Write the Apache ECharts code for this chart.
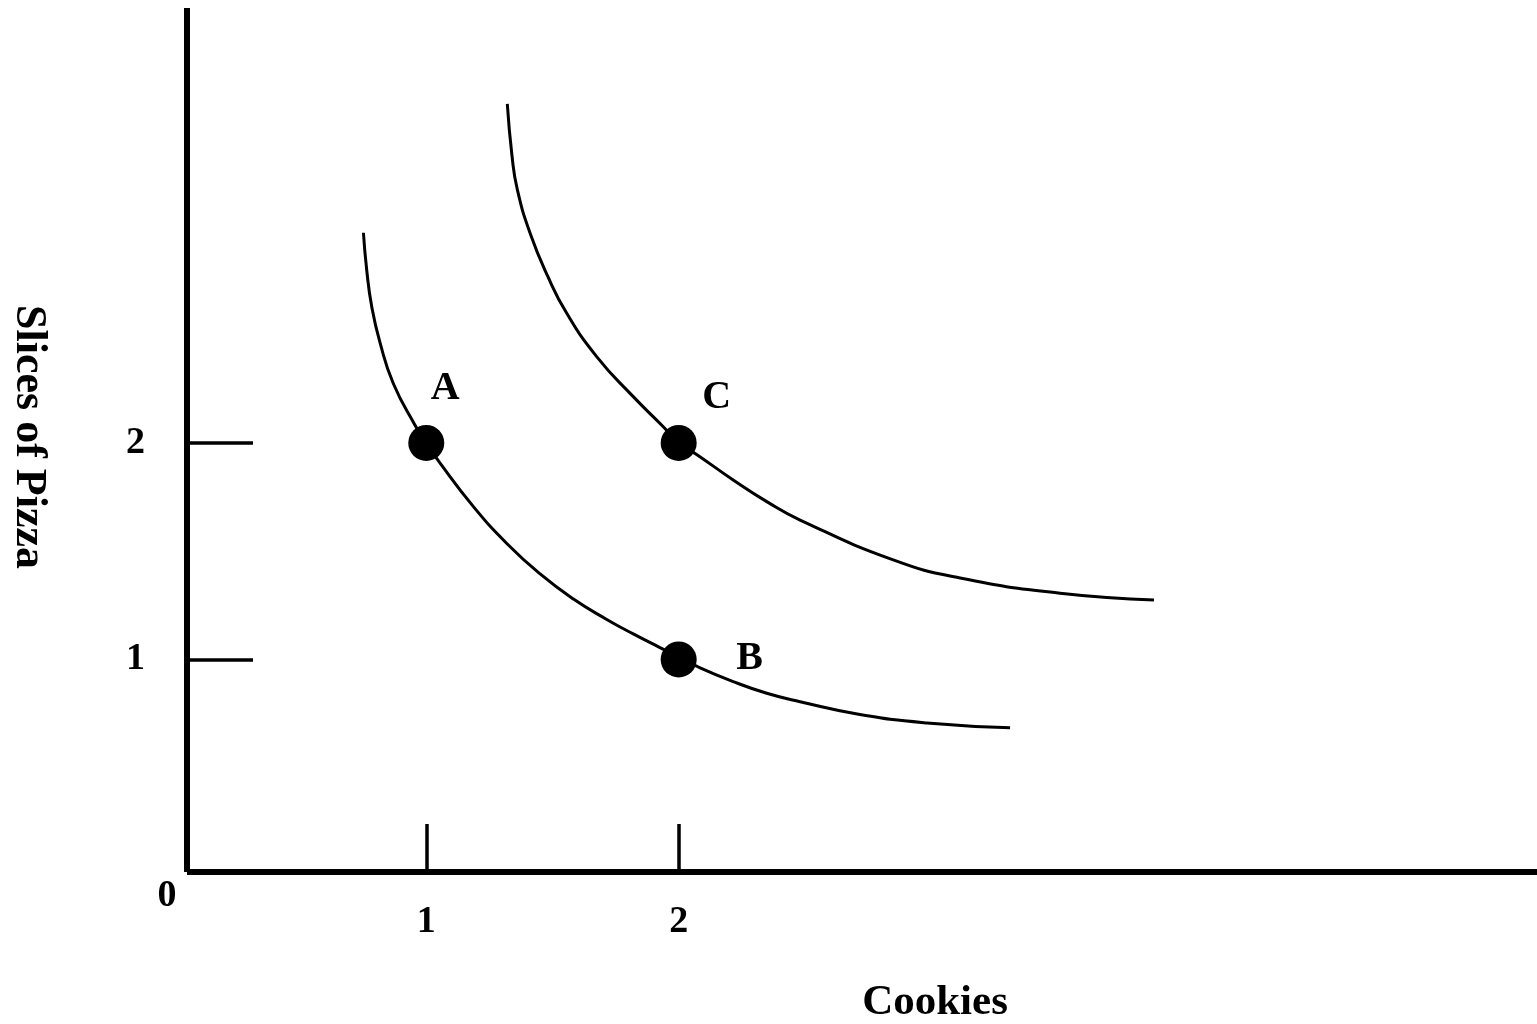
<!DOCTYPE html>
<html>
<head>
<meta charset="utf-8">
<script src="https://cdn.jsdelivr.net/npm/echarts@6/dist/echarts.min.js"></script>
<style>
html,body{margin:0;padding:0;background:#fff;}
#chart{width:1537px;height:1024px;}
</style>
</head>
<body>
<div id="chart"></div>
<script>
// ---- data ----
const xTickValues = [1, 2];
const yTickValues = [1, 2];
const xAxisTitle = 'Cookies';
const yAxisTitle = 'Slices of Pizza';
const originLabel = '0';

const pointNames = ['A', 'B', 'C'];
const pointCookies = [1, 2, 2];
const pointPizza = [2, 1, 2];

// lower indifference curve (through A and B)
const lowerCookies = [0.751, 0.764, 0.784, 0.817, 0.869, 0.955, 1.000, 1.054, 1.186, 1.319, 1.451, 1.583, 1.715, 1.820, 1.926, 1.992, 2.071, 2.216, 2.349, 2.481, 2.718, 2.983, 3.313];
const lowerPizza   = [2.971, 2.799, 2.629, 2.462, 2.276, 2.083, 2.000, 1.908, 1.707, 1.536, 1.395, 1.279, 1.185, 1.118, 1.055, 1.016, 0.969, 0.898, 0.844, 0.805, 0.746, 0.707, 0.685];

// upper indifference curve (through C)
const upperCookies = [1.321, 1.340, 1.361, 1.411, 1.482, 1.556, 1.675, 1.820, 1.939, 2.000, 2.071, 2.216, 2.349, 2.481, 2.850, 3.115, 3.511, 3.883];
const upperPizza   = [3.566, 3.322, 3.169, 2.970, 2.768, 2.600, 2.399, 2.214, 2.075, 2.000, 1.947, 1.829, 1.729, 1.644, 1.460, 1.376, 1.306, 1.275];

// ---- build ----
const FONT = 'Liberation Serif';
const zip = (a, b) => a.map((v, i) => [v, b[i]]);
const labelOffsets = { A: [37, -36], B: [89, 17], C: [56, -27] };

const chart = echarts.init(document.getElementById('chart'), null, { renderer: 'canvas' });

const option = {
  backgroundColor: '#ffffff',
  animation: false,
  grid: { left: 187, right: 0, top: 8, bottom: 152, outerBoundsMode: 'none', containLabel: false },
  xAxis: {
    type: 'value',
    min: 0.052,
    max: 5.4006,
    axisLine: { show: true, onZero: false, lineStyle: { color: '#000', width: 6, cap: 'butt' } },
    axisTick: { show: true, inside: true, length: 48, customValues: xTickValues, lineStyle: { color: '#000', width: 3.5 } },
    axisLabel: { show: true, customValues: xTickValues, margin: 31, color: '#000', fontFamily: FONT, fontWeight: 'bold', fontSize: 38 },
    splitLine: { show: false }
  },
  yAxis: {
    type: 'value',
    min: 0.0185,
    max: 4.009,
    axisLine: { show: true, onZero: false, lineStyle: { color: '#000', width: 6, cap: 'butt' } },
    axisTick: { show: true, inside: true, length: 66, customValues: yTickValues, lineStyle: { color: '#000', width: 3.5 } },
    axisLabel: { show: true, customValues: yTickValues, margin: 42, color: '#000', fontFamily: FONT, fontWeight: 'bold', fontSize: 38 },
    splitLine: { show: false }
  },
  graphic: [
    { type: 'text', x: 167, y: 896, style: { text: originLabel, fill: '#000', font: 'bold 38px "' + FONT + '"', textAlign: 'center', textVerticalAlign: 'middle' } },
    { type: 'text', x: 935, y: 1003, style: { text: xAxisTitle, fill: '#000', font: 'bold 43px "' + FONT + '"', textAlign: 'center', textVerticalAlign: 'middle' } },
    { type: 'text', x: 28, y: 437, rotation: -Math.PI / 2, style: { text: yAxisTitle, fill: '#000', font: 'bold 44px "' + FONT + '"', textAlign: 'center', textVerticalAlign: 'middle' } }
  ],
  series: [
    {
      type: 'line', data: zip(lowerCookies, lowerPizza), smooth: 0.5, showSymbol: false,
      lineStyle: { color: '#000', width: 3 }, z: 2, silent: true
    },
    {
      type: 'line', data: zip(upperCookies, upperPizza), smooth: 0.5, showSymbol: false,
      lineStyle: { color: '#000', width: 3 }, z: 2, silent: true
    },
    {
      type: 'scatter', symbol: 'circle', symbolSize: 36, z: 3,
      itemStyle: { color: '#000', opacity: 1 },
      data: pointNames.map((n, i) => ({
        name: n,
        value: [pointCookies[i], pointPizza[i]],
        label: {
          show: true, formatter: n, position: labelOffsets[n], align: 'center', verticalAlign: 'middle',
          color: '#000', opacity: 1, fontFamily: FONT, fontWeight: 'bold', fontSize: 40
        }
      }))
    }
  ]
};
chart.setOption(option);
</script>
</body>
</html>
